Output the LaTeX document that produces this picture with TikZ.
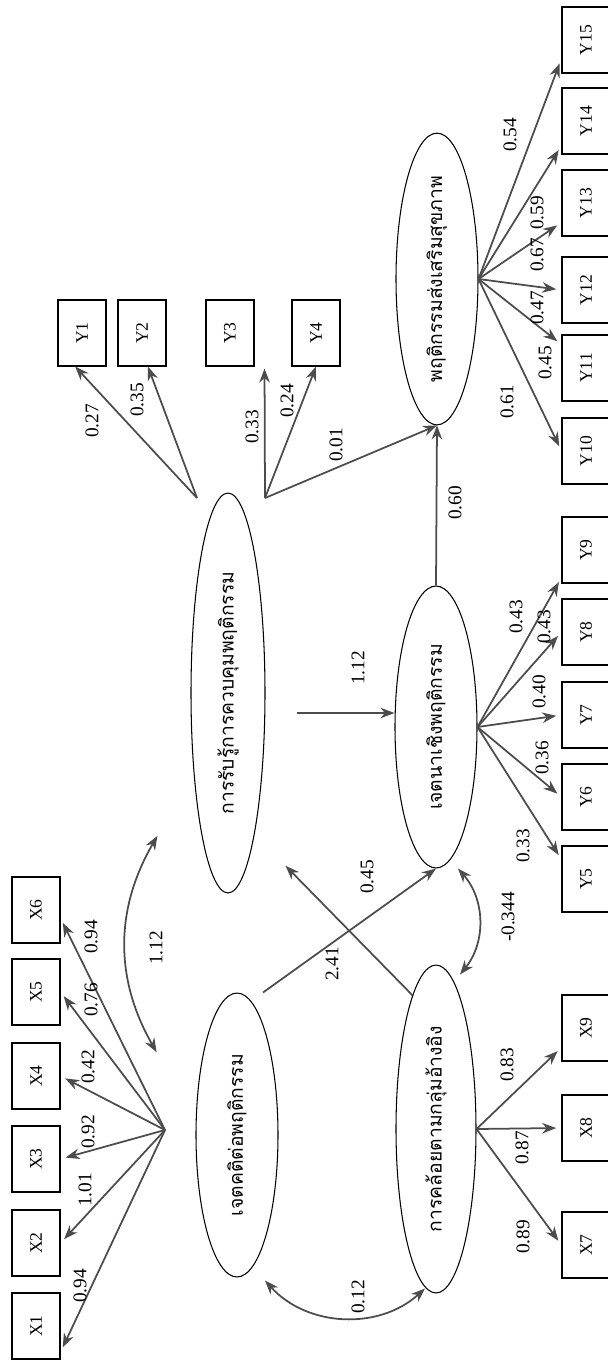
\documentclass[tikz,border=0pt]{standalone}
\usepackage{fontspec}
\setmainfont{Liberation Serif}
\newfontfamily\thaifont[Script=Thai]{Loma}
\usepackage{graphicx}
\usepackage{tikz}
\usetikzlibrary{arrows.meta, positioning, shapes.geometric, calc}

\begin{document}
\begin{tikzpicture}[x=0.02cm, y=-0.02cm,
  obs/.style={draw, line width=0.6pt, minimum width=0.96cm, minimum height=1.32cm, inner sep=0pt, font=\fontsize{10}{12}\selectfont},
  latent/.style={draw, line width=0.6pt, ellipse, inner sep=0pt, font=\thaifont\fontsize{11}{13}\selectfont},
  load/.style={draw=black!70, line width=1pt, -{Stealth[length=8pt, width=6pt]}, shorten >=3pt},
  path/.style={draw=black!70, line width=1pt, -{Stealth[length=8pt, width=6pt]}},
  cov/.style={draw=black!70, line width=1pt, {Stealth[length=8pt, width=6pt]}-{Stealth[length=8pt, width=6pt]}},
  coef/.style={inner sep=0pt, font=\fontsize{11}{13}\selectfont}]
  \useasboundingbox (0,0) rectangle (608,1360);

  % latent variables
  \node[latent, minimum width=1.48cm, minimum height=8cm] (E1) at (228,693)
    {\rotatebox{90}{การรับรู้การควบคุมพฤติกรรม}};
  \node[latent, minimum width=1.64cm, minimum height=5.68cm] (E2) at (437,279)
    {\rotatebox{90}{พฤติกรรมส่งเสริมสุขภาพ}};
  \node[latent, minimum width=1.64cm, minimum height=5.64cm] (E3) at (436,727)
    {\rotatebox{90}{เจตนาเชิงพฤติกรรม}};
  \node[latent, minimum width=1.64cm, minimum height=5.68cm] (E4) at (237,1135)
    {\rotatebox{90}{เจตคติต่อพฤติกรรม}};
  \node[latent, minimum width=1.60cm, minimum height=6.56cm] (E5) at (436,1129)
    {\rotatebox{90}{การคล้อยตามกลุ่มอ้างอิง}};

  % observed variables
  \foreach \i/\y in {1/1326, 2/1243, 3/1159, 4/1076, 5/992, 6/910}
    \node[obs] (X\i) at (36,\y) {\rotatebox{90}{X\i}};
  \foreach \i/\y in {7/1245, 8/1128, 9/1028}
    \node[obs] (X\i) at (586,\y) {\rotatebox{90}{X\i}};
  \foreach \i/\x in {1/82, 2/142, 3/230, 4/316}
    \node[obs] (Y\i) at (\x,333) {\rotatebox{90}{Y\i}};
  \foreach \i/\y in {5/879, 6/797, 7/715, 8/632, 9/550, 10/451, 11/368, 12/290, 13/203, 14/121, 15/40}
    \node[obs] (Y\i) at (586,\y) {\rotatebox{90}{Y\i}};

  \coordinate (E1l) at (197,498);
  \coordinate (E1r) at (265,498);
  \coordinate (E4l) at (165,1130);
  \coordinate (d3) at (297,713);

  % loadings
  \draw[load] (E4l) -- ($(X1.east)!0.78!(X1.south east)$);
  \draw[load] (E4l) -- (X2.east);
  \draw[load] (E4l) -- (X3.east);
  \draw[load] (E4l) -- (X4.east);
  \draw[load] (E4l) -- (X5.east);
  \draw[load] (E4l) -- ($(X6.east)!0.24!(X6.south east)$);
  \draw[load] (E5.east) -- (X7.west);
  \draw[load] (E5.east) -- (X8.west);
  \draw[load] (E5.east) -- ($(X9.west)!0.58!(X9.south west)$);
  \draw[path] (E1l) -- ($(Y1.south)!0.28!(Y1.south west)$);
  \draw[path] (E1l) -- ($(Y2.south)!0.24!(Y2.south east)$);
  \draw[path] (E1r) -- ($(Y3.south east)+(10,2)$);
  \draw[path] (E1r) -- (Y4.south);
  \draw[load] (E3.east) -- ($(Y5.west)!0.58!(Y5.north west)$);
  \draw[load] (E3.east) -- (Y6.west);
  \draw[load] (E3.east) -- (Y7.west);
  \draw[load] (E3.east) -- (Y8.west);
  \draw[load] (E3.east) -- ($(Y9.west)!0.82!(Y9.south west)$);
  \draw[load] (E2.east) -- (Y10.west);
  \draw[load] (E2.east) -- ($(Y11.west)!0.7!(Y11.north west)$);
  \draw[load] (E2.east) -- (Y12.west);
  \draw[load] (E2.east) -- ($(Y13.west)!0.58!(Y13.south west)$);
  \draw[load] (E2.east) -- ($(Y14.west)!0.73!(Y14.south west)$);
  \draw[load] (E2.east) -- ($(Y15.west)!0.55!(Y15.south west)$);

  % structural paths
  \draw[path] (E3.north) -- (E2.south);
  \draw[path] (E1r) -- (E2.south);
  \draw[path] (d3) -- (d3 -| E3.west);
  \draw[path] ($(E4.north)+(26,0)$) -- (E3.south);
  \draw[path] (E5.100) -- ($(E1.south east)+(31,31)$);
  \draw[cov] ($(E3.south)+(22,0)$) to[bend left=40] ($(E5.north)+(24,10)$);
  \draw[cov] ($(E4.south)+(28,3)$) to[bend right=45] ($(E5.south)+(-11,-5)$);
  \draw[cov] ($(E1.south west)+(-44,1)$) to[bend right=30] ($(E4.north west)+(-51,18)$);

  % coefficients
  \foreach \n/\x/\y/\t in {a/80/1286/0.94, b/85/1190/1.01, c/88/1132/0.92, d/88/1067/0.42,
      e/91/1000/0.76, f/91/937/0.94, g/156/948/1.12, h/92/421/0.27, i/137/400/0.35,
      j/252/427/0.33, k/287/401/0.24, l/336/445/0.01, m/358/668/1.12, n/455/503/0.60,
      o/367/877/0.45, p/332/964/2.41, q/508/917/-0.344, r/358/1297/0.12,
      s/523/846/0.33, t/542/758/0.36, u/539/692/0.40, v/544/627/0.43, w/516/617/0.43,
      x/507/402/0.61, y/545/363/0.45, z/537/308/0.47, aa/537/255/0.67, ab/537/213/0.59,
      ac/510/135/0.54, ad/507/1065/0.83, ae/522/1148/0.87, af/523/1237/0.89}
    \node[coef] (c\n) at (\x,\y) {\rotatebox{90}{\t}};
\end{tikzpicture}
\end{document}
